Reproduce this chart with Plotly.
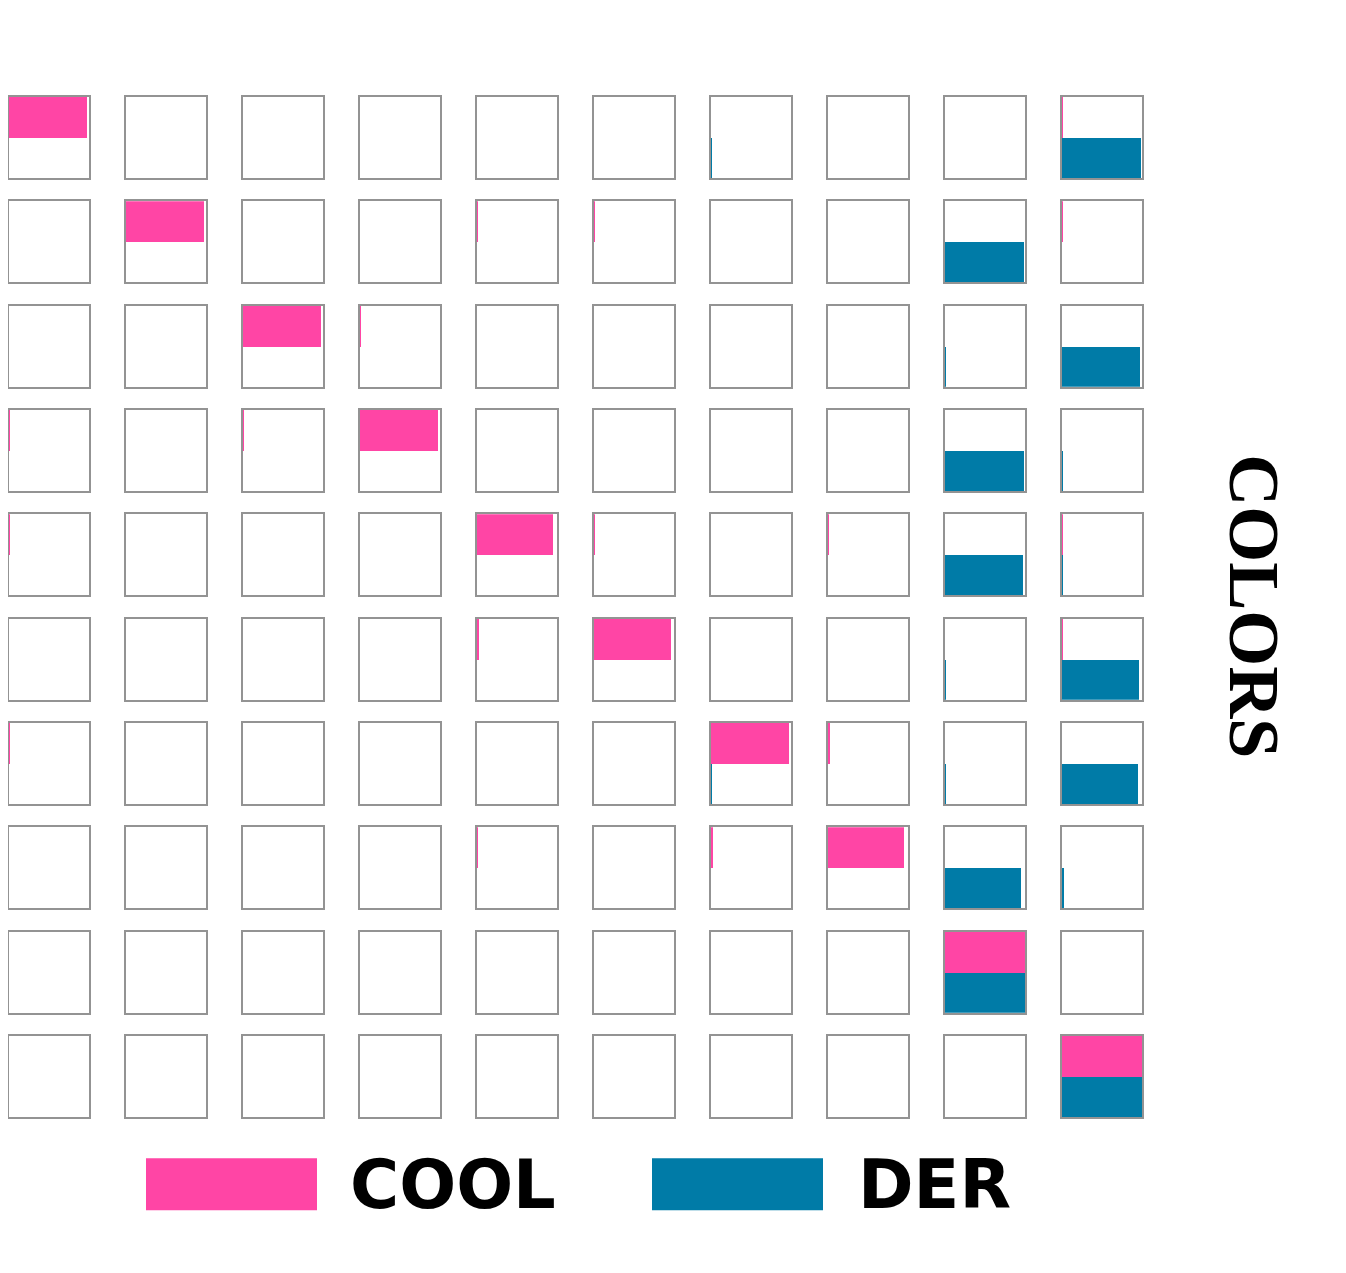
import plotly.graph_objects as go
from plotly.subplots import make_subplots

# ---- data ----
series_names = ["COOL", "DER"]
series_colors = ["#ff45a5", "#007ba7"]
title_text = "COLORS"

cool_row0 = [0.98, 0, 0, 0, 0, 0, 0, 0, 0, 0.01]
cool_row1 = [0, 0.975, 0, 0, 0.005, 0.01, 0, 0, 0, 0.01]
cool_row2 = [0, 0, 0.975, 0.012, 0, 0, 0, 0, 0, 0]
cool_row3 = [0.005, 0, 0.01, 0.975, 0, 0, 0, 0, 0, 0]
cool_row4 = [0.01, 0, 0, 0, 0.955, 0.01, 0, 0.003, 0, 0.005]
cool_row5 = [0, 0, 0, 0, 0.015, 0.965, 0, 0, 0, 0.005]
cool_row6 = [0.003, 0, 0, 0, 0, 0, 0.97, 0.015, 0, 0]
cool_row7 = [0, 0, 0, 0, 0.005, 0, 0.03, 0.955, 0, 0]
cool_row8 = [0, 0, 0, 0, 0, 0, 0, 0, 1.0, 0]
cool_row9 = [0, 0, 0, 0, 0, 0, 0, 0, 0, 1.0]

der_row0 = [0, 0, 0, 0, 0, 0, 0.005, 0, 0, 0.985]
der_row1 = [0, 0, 0, 0, 0, 0, 0, 0, 0.99, 0]
der_row2 = [0, 0, 0, 0, 0, 0, 0, 0, 0.01, 0.975]
der_row3 = [0, 0, 0, 0, 0, 0, 0, 0, 0.985, 0.01]
der_row4 = [0, 0, 0, 0, 0, 0, 0, 0, 0.97, 0.01]
der_row5 = [0, 0, 0, 0, 0, 0, 0, 0, 0.01, 0.965]
der_row6 = [0, 0, 0, 0, 0, 0, 0.01, 0, 0.01, 0.955]
der_row7 = [0, 0, 0, 0, 0, 0, 0, 0, 0.955, 0.03]
der_row8 = [0, 0, 0, 0, 0, 0, 0, 0, 1.0, 0]
der_row9 = [0, 0, 0, 0, 0, 0, 0, 0, 0, 1.0]

cool_values = [cool_row0, cool_row1, cool_row2, cool_row3, cool_row4,
               cool_row5, cool_row6, cool_row7, cool_row8, cool_row9]
der_values = [der_row0, der_row1, der_row2, der_row3, der_row4,
              der_row5, der_row6, der_row7, der_row8, der_row9]

N = 10
W, H = 1346, 1273
PAGE_OFF = 8  # default body margin of the html page
cell_w, pitch_x = 80, 117
cell_h, pitch_y = 81, 104.3
pw = 9 * pitch_x + cell_w
ph = 9 * pitch_y + cell_h
ML, MT = 1, 89
MR = W - ML - pw
MB = H - MT - ph

fig = make_subplots(rows=N, cols=N,
                    horizontal_spacing=(pitch_x - cell_w) / pw,
                    vertical_spacing=(pitch_y - cell_h) / ph)

for r in range(N):
    for c in range(N):
        fig.add_trace(go.Bar(orientation="h", x=[cool_values[r][c]], y=[1],
                             width=1, base=0, name=series_names[0],
                             legendgroup=series_names[0], showlegend=False,
                             marker=dict(color=series_colors[0], line=dict(width=0))),
                      row=r + 1, col=c + 1)
        fig.add_trace(go.Bar(orientation="h", x=[der_values[r][c]], y=[0],
                             width=1, base=0, name=series_names[1],
                             legendgroup=series_names[1], showlegend=False,
                             marker=dict(color=series_colors[1], line=dict(width=0))),
                      row=r + 1, col=c + 1)

axis_style = dict(showline=True, mirror=True, linecolor="#939393", linewidth=1.6,
                  showgrid=False, zeroline=False, showticklabels=False, ticks="",
                  fixedrange=True, layer="below traces")
fig.update_xaxes(range=[0, 1], **axis_style)
fig.update_yaxes(range=[-0.5, 1.5], **axis_style)


def px_x(x):
    return (x - PAGE_OFF - ML) / pw


def px_y(y):
    return (H - MB - (y - PAGE_OFF)) / ph


# custom large legend
legend_boxes = [(146, 317, 352), (652, 823, 860)]
shapes = []
annotations = []
for i, (x0, x1, tx) in enumerate(legend_boxes):
    shapes.append(dict(type="rect", xref="paper", yref="paper",
                       x0=px_x(x0), x1=px_x(x1), y0=px_y(1210), y1=px_y(1158),
                       fillcolor=series_colors[i], line=dict(width=0)))
    annotations.append(dict(text="<b>%s</b>" % series_names[i], xref="paper", yref="paper",
                            x=px_x(tx - 4), y=px_y(1185), xanchor="left", yanchor="middle",
                            showarrow=False,
                            font=dict(family="DejaVu Sans", size=67, color="black")))

annotations.append(dict(text="<b>%s</b>" % title_text, xref="paper", yref="paper",
                        x=px_x(1254), y=px_y(606), xanchor="center", yanchor="middle",
                        textangle=90, showarrow=False,
                        font=dict(family="Liberation Serif", size=72, color="black")))

fig.update_layout(width=W, height=H, margin=dict(l=ML, r=MR, t=MT, b=MB),
                  paper_bgcolor="white", plot_bgcolor="white",
                  barmode="overlay", bargap=0, showlegend=False,
                  shapes=shapes, annotations=annotations)

fig.write_html("out.html")
